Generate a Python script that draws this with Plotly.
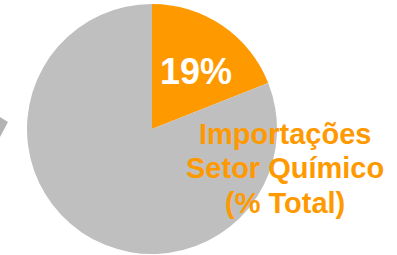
import plotly.graph_objects as go

labels = ["Importações Setor Químico", "Demais"]
values = [19, 81]
colors = ["#FF9900", "#BFBFBF"]
label_lines = ["Importações", "Setor Químico", "(% Total)"]

W, H = 397, 255

fig = go.Figure(go.Pie(
    labels=labels,
    values=values,
    marker=dict(colors=colors, line=dict(width=0)),
    sort=False,
    direction="clockwise",
    rotation=0,
    textinfo="none",
    hoverinfo="label+percent",
    showlegend=False,
    domain=dict(x=[26 / W, 278 / W], y=[1 - 254 / H, 1 - 4 / H]),
))

# value label on the orange slice
fig.add_annotation(
    text=f"<b>{values[0]}%</b>", x=196 / W, y=1 - 71 / H, xref="paper", yref="paper",
    showarrow=False, xanchor="center", yanchor="middle",
    font=dict(family="Liberation Sans, Arial", size=36, color="white"),
)

# category label
line_y = [134, 168, 203]
for txt, yy in zip(label_lines, line_y):
    fig.add_annotation(
        text=f"<b>{txt}</b>", x=285 / W, y=1 - yy / H, xref="paper", yref="paper",
        showarrow=False, xanchor="center", yanchor="middle",
        font=dict(family="Liberation Sans, Arial", size=29, color=colors[0]),
    )

# small decorative arrow fragment at the left edge
fig.add_shape(
    type="path", xref="paper", yref="paper",
    path=f"M 0 {1 - 117 / H} L {8 / W} {1 - 122 / H} L 0 {1 - 137 / H} Z",
    fillcolor="#B3B3B3", line=dict(width=0),
)

fig.update_layout(
    width=W, height=H,
    margin=dict(l=0, r=0, t=0, b=0),
    paper_bgcolor="white", plot_bgcolor="white",
)

fig.write_html(
    "out.html",
    config={"displayModeBar": False},
    post_script="document.body.style.margin='0';",
)
